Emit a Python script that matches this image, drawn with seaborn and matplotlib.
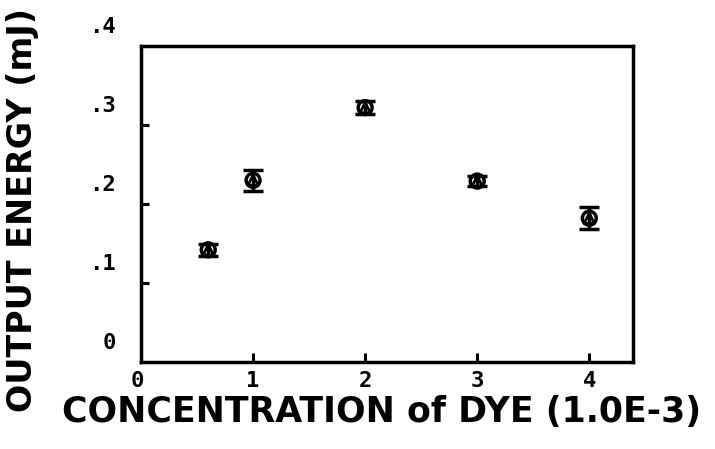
import numpy as np
import pandas as pd
import seaborn as sns
import matplotlib.pyplot as plt
from matplotlib import transforms

# data
conc = [0.6, 1.0, 2.0, 3.0, 4.0]
energy = [0.142, 0.230, 0.322, 0.229, 0.182]
err = [0.008, 0.013, 0.008, 0.006, 0.014]
x_ticks = [0, 1, 2, 3, 4]
x_labels = ['0', '1', '2', '3', '4']
y_ticks = [0.0, 0.1, 0.2, 0.3, 0.4]
y_labels = ['0', '.1', '.2', '.3', '.4']

sns.set_style('ticks')
plt.rcParams['font.family'] = ['DejaVu Sans Mono', 'DejaVu Sans']
plt.rcParams['text.color'] = 'black'

df = pd.DataFrame({'conc': conc, 'energy': energy})

fig = plt.figure(figsize=(7.15, 4.49), dpi=100)
ax = fig.add_axes([141 / 715, 87 / 449, 492 / 715, 316 / 449])

ax.errorbar(conc, energy, yerr=err, fmt='none', ecolor='black',
            elinewidth=2.5, capsize=7, capthick=2.5)
sns.scatterplot(data=df, x='conc', y='energy', ax=ax, marker='o', s=100,
                facecolor='none', edgecolor='black', linewidth=2.5)
sns.scatterplot(data=df, x='conc', y='energy', ax=ax, marker='^', s=55,
                facecolor='none', edgecolor='black', linewidth=2.0)

ax.set_xlim(0, 4.39)
ax.set_ylim(0, 0.4)
ax.set_xticks([])
ax.set_yticks([])
# short inward tick marks like the plotter draws
ax.vlines(x_ticks[1:], 0, 0.012, colors='black', linewidth=2.2, zorder=5)
ax.hlines(y_ticks[1:-1], 0, 0.07, colors='black', linewidth=2.2, zorder=5)
for s in ax.spines.values():
    s.set_color('black')
    s.set_linewidth(2.5)

# plotter-style labels, slightly offset from the ticks
xt = transforms.blended_transform_factory(ax.transData, fig.transFigure)
for xv, lab in zip(x_ticks, x_labels):
    off = -0.03 if xv == 0 else 0
    ax.text(xv + off, 1 - 381 / 449, lab, ha='center', va='center', fontsize=16,
            fontweight='bold', color='black', transform=xt, clip_on=False)
yt = transforms.blended_transform_factory(fig.transFigure, ax.transData)
for yv, lab in zip(y_ticks, y_labels):
    ax.text(116 / 715, yv + 0.0235, lab, ha='right', va='center', fontsize=16,
            fontweight='bold', color='black', transform=yt, clip_on=False)

ax.set_xlabel('')
ax.set_ylabel('')
fig.text(382 / 715, 1 - 412 / 449, 'CONCENTRATION of DYE (1.0E-3)', ha='center', va='center',
         fontsize=25, fontweight='bold', color='black', family='DejaVu Sans')
fig.text(23 / 715, 1 - 210 / 449, 'OUTPUT ENERGY (mJ)', ha='center', va='center',
         rotation=90, fontsize=24, fontweight='bold', color='black', family='DejaVu Sans')

fig.savefig('out.png', dpi=100)
